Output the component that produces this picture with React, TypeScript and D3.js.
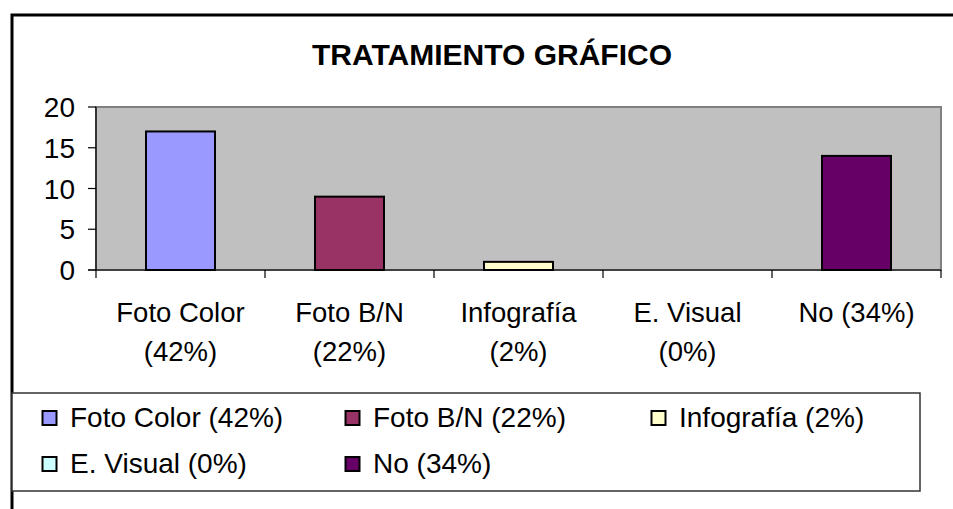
import React, { useEffect, useRef } from "react";
import * as d3 from "d3";

const categories = ["Foto Color (42%)", "Foto B/N (22%)", "Infografía (2%)", "E. Visual (0%)", "No (34%)"];
const axisLabels = [["Foto Color", "(42%)"], ["Foto B/N", "(22%)"], ["Infografía", "(2%)"], ["E. Visual", "(0%)"], ["No (34%)"]];
const values = [17, 9, 1, 0, 14];
const colors = ["#9999FF", "#993366", "#FFFFCC", "#CCFFFF", "#660066"];
const yTicks = [0, 5, 10, 15, 20];

const App = () => {
  const ref = useRef<SVGSVGElement>(null);

  useEffect(() => {
    const svg = d3.select(ref.current);
    svg.selectAll("*").remove();
    const font = "Liberation Sans, Arial, sans-serif";

    const left = 96, right = 941, top = 107, bottom = 270;

    svg.append("rect").attr("width", 953).attr("height", 509).attr("fill", "#fff");
    // outer chart border (runs off the right and bottom)
    svg.append("rect").attr("x", 12).attr("y", 15).attr("width", 960).attr("height", 520)
      .attr("fill", "none").attr("stroke", "#000").attr("stroke-width", 3);

    svg.append("text").attr("x", 492).attr("y", 65).attr("text-anchor", "middle")
      .attr("font-family", font).attr("font-weight", "bold").attr("font-size", 30)
      .text("TRATAMIENTO GRÁFICO");

    const x = d3.scaleBand<number>().domain(d3.range(categories.length)).range([left, right]).paddingInner(0).paddingOuter(0);
    const y = d3.scaleLinear().domain([0, 20]).range([bottom, top]);

    svg.append("rect").attr("x", left).attr("y", top).attr("width", right - left).attr("height", bottom - top)
      .attr("fill", "#C0C0C0").attr("stroke", "#808080").attr("stroke-width", 2);

    const bw = 69;
    svg.selectAll(".bar").data(values).enter().append("rect")
      .attr("x", (_, i) => x(i)! + x.bandwidth() / 2 - bw / 2)
      .attr("y", (d) => y(d))
      .attr("width", bw)
      .attr("height", (d) => bottom - y(d))
      .attr("fill", (_, i) => colors[i])
      .attr("stroke", "#000").attr("stroke-width", 2)
      .attr("display", (d) => (d > 0 ? null : "none"));

    // axes
    const ax = svg.append("g").attr("stroke", "#000").attr("stroke-width", 1.2);
    ax.append("line").attr("x1", left).attr("x2", left).attr("y1", top).attr("y2", bottom + 8);
    ax.append("line").attr("x1", left - 8).attr("x2", right).attr("y1", bottom).attr("y2", bottom);
    yTicks.forEach((t) => {
      ax.append("line").attr("x1", left - 8).attr("x2", left).attr("y1", y(t)).attr("y2", y(t));
    });
    d3.range(1, categories.length + 1).forEach((i) => {
      const px = x(i) ?? right;
      ax.append("line").attr("x1", px).attr("x2", px).attr("y1", bottom).attr("y2", bottom + 8);
    });

    svg.selectAll(".ytick").data(yTicks).enter().append("text")
      .attr("x", 75).attr("y", (d) => y(d) + 10).attr("text-anchor", "end")
      .attr("font-family", font).attr("font-size", 28).text((d) => d);

    axisLabels.forEach((lines, i) => {
      lines.forEach((ln, j) => {
        svg.append("text").attr("x", x(i)! + x.bandwidth() / 2).attr("y", 322 + j * 39)
          .attr("text-anchor", "middle").attr("font-family", font).attr("font-size", 27.5).text(ln);
      });
    });

    // legend
    svg.append("rect").attr("x", 12).attr("y", 393).attr("width", 908).attr("height", 98)
      .attr("fill", "#fff").attr("stroke", "#333").attr("stroke-width", 1.5);
    const colX = [42, 345, 651];
    const rowY = [427, 473];
    categories.forEach((c, i) => {
      const g = svg.append("g").attr("transform", `translate(${colX[i % 3]},${rowY[Math.floor(i / 3)]})`);
      g.append("rect").attr("x", 0.5).attr("y", -16).attr("width", 14).attr("height", 14)
        .attr("fill", colors[i]).attr("stroke", "#000").attr("stroke-width", 2);
      g.append("text").attr("x", 28).attr("y", 0).attr("font-family", font).attr("font-size", 28).text(c);
    });
  }, []);

  return <svg ref={ref} width={953} height={509} style={{ position: "absolute", left: 0, top: 0 }} />;
};

export default App;
